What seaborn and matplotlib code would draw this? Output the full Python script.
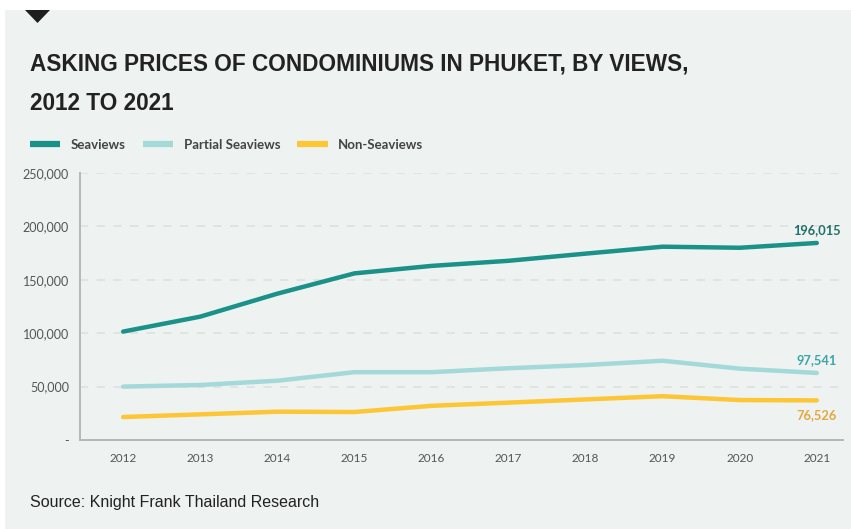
import matplotlib
matplotlib.use("Agg")
import matplotlib.pyplot as plt
from matplotlib.patches import Polygon, Rectangle
from matplotlib.lines import Line2D
import seaborn as sns
import pandas as pd

years = [2012, 2013, 2014, 2015, 2016, 2017, 2018, 2019, 2020, 2021]
seaviews = [101500, 115500, 137000, 156000, 163000, 167800, 174500, 181000, 180000, 184500]
partial_seaviews = [50000, 51500, 55500, 63500, 63500, 67200, 70200, 74200, 66800, 62800]
non_seaviews = [21500, 24000, 26500, 26200, 32000, 35000, 38000, 41000, 37400, 37100]

series_names = ["Seaviews", "Partial Seaviews", "Non-Seaviews"]
series_colors = ["#1a9189", "#a3d9d8", "#fdc634"]
end_label_texts = ["196,015", "97,541", "76,526"]
end_label_colors = ["#1f6f6b", "#3aa7a6", "#e2a93c"]

y_ticks = [0, 50000, 100000, 150000, 200000, 250000]
y_tick_labels = ["-", "50,000", "100,000", "150,000", "200,000", "250,000"]

title_lines = "ASKING PRICES OF CONDOMINIUMS IN PHUKET, BY VIEWS,\n2012 TO 2021"
source_text = "Source: Knight Frank Thailand Research"

df = pd.DataFrame({
    "year": years * 3,
    "price": seaviews + partial_seaviews + non_seaviews,
    "view": [n for n in series_names for _ in years],
})

bg = "#eef2f1"
sns.set_theme(style="white")
plt.rcParams["font.family"] = ["Lato", "DejaVu Sans"]

fig = plt.figure(figsize=(8.51, 5.29), dpi=100)
fig.patch.set_facecolor("white")

# grey card behind everything, with a white strip along the top and left
fig.add_artist(Rectangle((5 / 851, 0), 1, 1 - 10 / 529, transform=fig.transFigure,
                         facecolor=bg, edgecolor="none", zorder=-10))
# small dark marker at the top-left corner
fig.add_artist(Polygon([(25 / 851, 1 - 10 / 529), (50 / 851, 1 - 10 / 529),
                        (37.5 / 851, 1 - 23 / 529)], closed=True,
                       transform=fig.transFigure, facecolor="#1e1e1e",
                       edgecolor="none"))

ax = fig.add_axes([80 / 851, 89 / 529, 763 / 851, 267 / 529])
ax.set_facecolor(bg)

sns.lineplot(data=df, x="year", y="price", hue="view", hue_order=series_names,
             palette=series_colors, linewidth=3.2, ax=ax, legend=False,
             solid_capstyle="round", solid_joinstyle="round")

ax.set_xlim(2011.44, 2021.34)
ax.set_ylim(0, 250000)
ax.set_xticks(years)
ax.set_xticklabels([str(y) for y in years], fontsize=8.5, color="#555555")
ax.set_yticks(y_ticks)
ax.set_yticklabels(y_tick_labels, fontsize=9, color="#555555")
ax.tick_params(axis="both", length=0)
ax.tick_params(axis="x", pad=9)
ax.tick_params(axis="y", pad=8)
ax.set_xlabel("")
ax.set_ylabel("")

for yv in y_ticks[1:]:
    ax.axhline(yv, color="#dde1e0", linewidth=1.2, dashes=(5, 5), zorder=0)

for side in ["top", "right"]:
    ax.spines[side].set_visible(False)
for side in ["left", "bottom"]:
    ax.spines[side].set_color("#b5b8b7")
    ax.spines[side].set_linewidth(1.4)

# value callouts at the 2021 end of each line
last_vals = [seaviews[-1], partial_seaviews[-1], non_seaviews[-1]]
offsets = [(0, 9.5), (0, 9), (0, -10.5)]
for txt, col, yv, off in zip(end_label_texts, end_label_colors, last_vals, offsets):
    ax.annotate(txt, xy=(years[-1], yv), xytext=off, textcoords="offset points",
                ha="center", va="center", fontsize=9.3, fontweight="bold", color=col)

# legend
handles = [Line2D([0], [0], color=c, linewidth=4.5, solid_capstyle="butt")
           for c in series_colors]
fig.legend(handles, series_names, loc="center left",
           bbox_to_anchor=(18 / 851, 1 - 145 / 529), ncol=3, frameon=False,
           handlelength=2.3, handletextpad=0.8, columnspacing=1.3,
           prop={"family": ["Lato", "DejaVu Sans"], "weight": "bold", "size": 9.5},
           labelcolor="#444444")

fig.text(30 / 851, 1 - 53 / 529, title_lines, ha="left", va="top",
         fontsize=16.3, fontweight="bold", color="#222222",
         family=["Liberation Sans", "DejaVu Sans"], linespacing=1.9)

fig.text(30 / 851, 1 - 503 / 529, source_text, ha="left", va="center",
         fontsize=11.5, color="#222222", family=["Liberation Sans", "DejaVu Sans"])

fig.savefig("out.png", dpi=100, facecolor=fig.get_facecolor())
